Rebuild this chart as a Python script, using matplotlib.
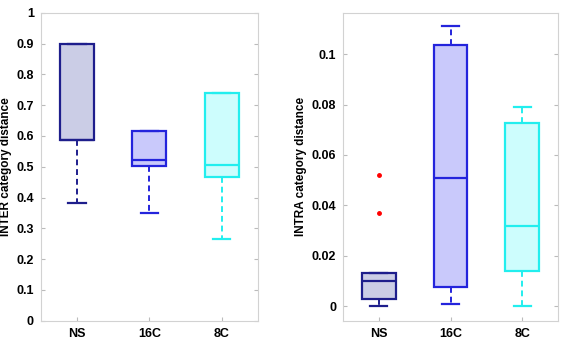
import matplotlib
matplotlib.use("Agg")
import matplotlib.pyplot as plt

categories = ["NS", "16C", "8C"]

# INTER category distance (left)
inter_whislo = [0.381, 0.349, 0.264]
inter_q1 = [0.588, 0.502, 0.467]
inter_med = [0.588, 0.521, 0.507]
inter_q3 = [0.899, 0.615, 0.738]
inter_whishi = [0.899, 0.615, 0.738]
inter_fliers = [[], [], []]

# INTRA category distance (right)
intra_whislo = [0.0, 0.0008, 0.0]
intra_q1 = [0.0028, 0.0074, 0.0140]
intra_med = [0.0099, 0.0510, 0.0319]
intra_q3 = [0.0130, 0.1037, 0.0726]
intra_whishi = [0.0130, 0.1114, 0.0791]
intra_fliers = [[0.0519, 0.0370], [], []]

edge_colors = ["#1e1e8c", "#2424dc", "#22eeee"]
face_colors = ["#cbcde6", "#c9c9fb", "#cdfdfd"]

plt.rcParams['font.family'] = ['Liberation Sans', 'DejaVu Sans']

fig = plt.figure(figsize=(5.63, 3.5), dpi=100)
ax1 = fig.add_axes([40.7/563, 1-320.7/350, 217.3/563, 308/350])
ax2 = fig.add_axes([343/563, 1-320.7/350, 215/563, 308/350])


def draw(ax, wl, q1, med, q3, wh, fl, ylim, yticks, ylabel):
    for i in range(len(categories)):
        st = [dict(whislo=wl[i], q1=q1[i], med=med[i], q3=q3[i], whishi=wh[i], fliers=fl[i])]
        c = edge_colors[i]
        ax.bxp(st, positions=[i + 1], widths=0.47, patch_artist=True,
               boxprops=dict(facecolor=face_colors[i], edgecolor=c, linewidth=1.6),
               medianprops=dict(color=c, linewidth=1.6),
               whiskerprops=dict(color=c, linewidth=1.4, linestyle=(0, (3, 2))),
               capprops=dict(color=c, linewidth=1.6),
               capwidths=0.24,
               flierprops=dict(marker='o', markersize=2.5, markerfacecolor='red',
                               markeredgecolor='red', linestyle='none'),
               showcaps=True)
        # hide caps where whisker coincides with box
        if wh[i] == q3[i]:
            ax.lines[-4].set_visible(False) if False else None
    ax.set_xlim(0.5, 3.5)
    ax.set_ylim(*ylim)
    ax.set_yticks(yticks)
    ax.set_yticklabels([f"{t:g}" for t in yticks])
    ax.set_xticks([1, 2, 3])
    ax.set_xticklabels(categories)
    for s in ax.spines.values():
        s.set_color("#d2d2d2")
        s.set_linewidth(0.8)
    ax.tick_params(direction='in', length=3, color="#bbbbbb", right=True,
                   labelsize=9, pad=5)
    for lab in ax.get_xticklabels() + ax.get_yticklabels():
        lab.set_fontweight('bold')
    ax.set_ylabel(ylabel, fontsize=8.5, fontweight='bold', labelpad=3)


draw(ax1, inter_whislo, inter_q1, inter_med, inter_q3, inter_whishi, inter_fliers,
     (0, 1), [0, 0.1, 0.2, 0.3, 0.4, 0.5, 0.6, 0.7, 0.8, 0.9, 1], "INTER category distance")
draw(ax2, intra_whislo, intra_q1, intra_med, intra_q3, intra_whishi, intra_fliers,
     (-0.0058, 0.1165), [0, 0.02, 0.04, 0.06, 0.08, 0.1], "INTRA category distance")

fig.savefig("out.png", dpi=100)
